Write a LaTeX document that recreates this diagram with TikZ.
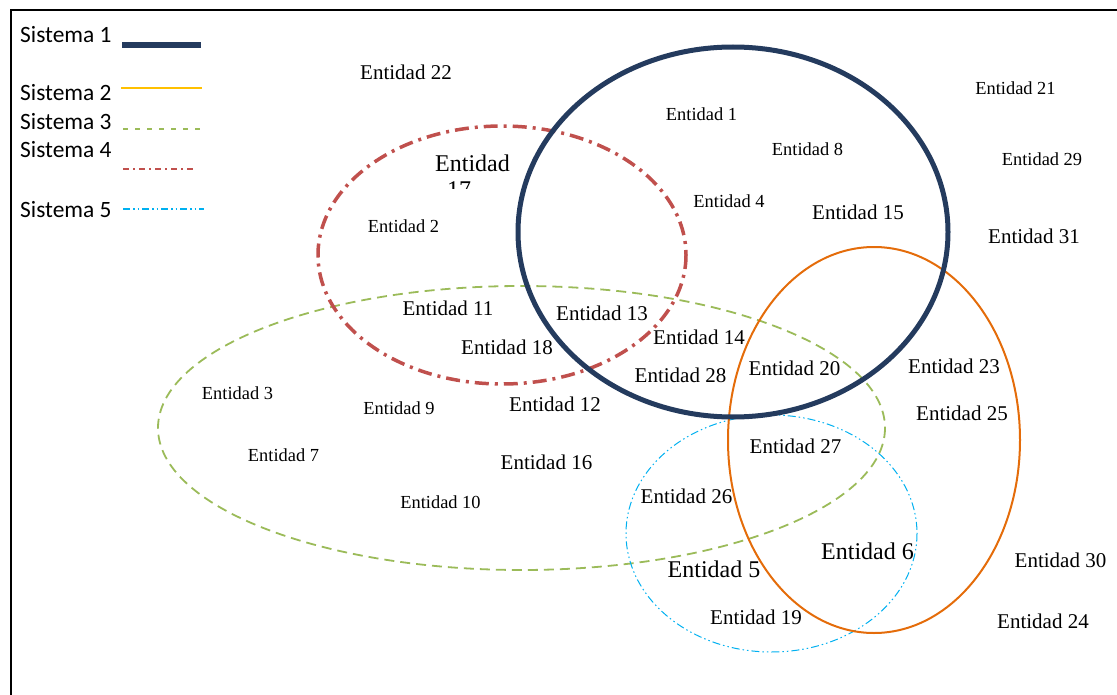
\documentclass[tikz,border=0pt]{standalone}
\usepackage{fontspec}
\setmainfont{Liberation Serif}
\newfontfamily\legendfont{Carlito}
\definecolor{sysnavy}{HTML}{243B5E}
\definecolor{sysorange}{HTML}{E46C0A}
\definecolor{sysgold}{HTML}{FFC000}
\definecolor{sysgreen}{HTML}{9BBB59}
\definecolor{sysred}{HTML}{C0504D}
\definecolor{syscyan}{HTML}{00B0F0}
\tikzset{
  ent/.style={inner sep=0pt, font=\fontsize{18.4bp}{22bp}\selectfont},
  entm/.style={inner sep=0pt, font=\fontsize{21bp}{25bp}\selectfont},
  entl/.style={inner sep=0pt, font=\fontsize{24bp}{28bp}\selectfont},
  leg/.style={inner sep=0pt, anchor=base west, font=\legendfont\fontsize{23.4bp}{28bp}\selectfont},
  sysone/.style={draw=sysnavy, line width=5bp},
  systwo/.style={draw=sysorange, line width=2bp},
  systhree/.style={draw=sysgreen, line width=1.8bp, dash pattern=on 10bp off 6bp},
  sysfour/.style={draw=sysred, line width=3.5bp, dash pattern=on 14bp off 6bp on 3bp off 6bp},
  sysfive/.style={draw=syscyan, line width=1bp, dash pattern=on 8bp off 3bp on 1.5bp off 3bp on 1.5bp off 3bp},
}
\begin{document}
\begin{tikzpicture}[x=1bp, y=-1bp]
\useasboundingbox (0,0) rectangle (1117,695);
% frame
\draw[line width=2bp] (1117,10) -- (11,10) -- (11,695);

% legend
\node[leg] (l1) at (20,43) {Sistema 1};
\node[leg] (l2) at (20,101) {Sistema 2};
\node[leg] (l3) at (20,130) {Sistema 3};
\node[leg] (l4) at (20,158) {Sistema 4};
\node[leg] (l5) at (20,218) {Sistema 5};
\coordinate (a1) at (122,45);  \coordinate (b1) at (201,45);
\coordinate (a2) at (121,88);  \coordinate (b2) at (202,88);
\coordinate (a3) at (123,129); \coordinate (b3) at (200,129);
\coordinate (a4) at (123,169); \coordinate (b4) at (197,169);
\coordinate (a5) at (123,209); \coordinate (b5) at (204,209);
\draw[draw=sysnavy, line width=6bp] (a1) -- (b1);
\draw[draw=sysgold, line width=2bp] (a2) -- (b2);
\draw[draw=sysgreen, line width=1.6bp, dash pattern=on 5bp off 7bp] (a3) -- (b3);
\draw[draw=sysred, line width=1.6bp, dash pattern=on 6bp off 4bp on 2bp off 4bp] (a4) -- (b4);
\draw[draw=syscyan, line width=1.4bp, dash pattern=on 7bp off 3bp on 1.5bp off 3bp on 1.5bp off 3bp] (a5) -- (b5);

% systems
\draw[systhree] (521.5,428) ellipse [x radius=363.5, y radius=142];
\draw[sysfour] (502,255) ellipse [x radius=184, y radius=129];
\draw[sysfive] (771.5,533.5) ellipse [x radius=145.5, y radius=118.5];
\draw[systwo] (874,440) ellipse [x radius=146, y radius=193];
\draw[sysone] (733,232) ellipse [x radius=215, y radius=185];

% entities
\node[entm] (e22) at (406,72) {Entidad 22};
\node[ent] (e1) at (701.5,114) {Entidad 1};
\node[ent] (e8) at (807.5,149) {Entidad 8};
\node[ent] (e4) at (729,201) {Entidad 4};
\node[entm] (e15) at (858,212) {Entidad 15};
\node[ent] (e21) at (1015.5,88) {Entidad 21};
\node[ent] (e29) at (1042,159) {Entidad 29};
\node[entm] (e31) at (1034,236) {Entidad 31};
\node[entl] (e17) at (472.5,163) {Entidad};
\begin{scope}
  \clip (420,150) rectangle (530,189);
  \node[entl, anchor=base] (e17b) at (459,198) {17};
\end{scope}
\node[ent] (e2) at (403.5,226) {Entidad 2};
\node[entm] (e11) at (448,308) {Entidad 11};
\node[entm] (e13) at (602,313) {Entidad 13};
\node[entm] (e18) at (507,347) {Entidad 18};
\node[entm] (e14) at (699,337) {Entidad 14};
\node[entm] (e28) at (680.5,375) {Entidad 28};
\node[entm] (e20) at (794.5,368) {Entidad 20};
\node[entm] (e23) at (954,366) {Entidad 23};
\node[entm] (e25) at (962,413) {Entidad 25};
\node[ent] (e3) at (237.5,393) {Entidad 3};
\node[ent] (e9) at (399,408) {Entidad 9};
\node[entm] (e12) at (555,404) {Entidad 12};
\node[ent] (e7) at (283.5,455) {Entidad 7};
\node[entm] (e16) at (546.5,462) {Entidad 16};
\node[ent] (e10) at (440.5,502) {Entidad 10};
\node[entm] (e27) at (795.5,446) {Entidad 27};
\node[entm] (e26) at (686.5,496) {Entidad 26};
\node[entl] (e5) at (714,569) {Entidad 5};
\node[entl] (e6) at (867.5,551) {Entidad 6};
\node[entm] (e19) at (756,617) {Entidad 19};
\node[entm] (e30) at (1060.5,560) {Entidad 30};
\node[entm] (e24) at (1043,621) {Entidad 24};
\end{tikzpicture}
\end{document}
